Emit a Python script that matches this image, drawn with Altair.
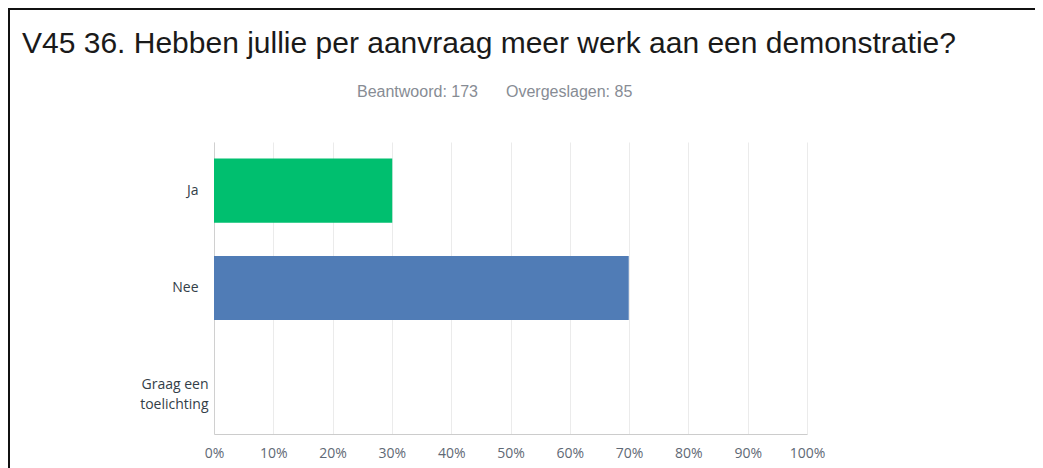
import altair as alt
import pandas as pd

categories = ["Ja", "Nee", "Graag een toelichting"]
percentages = [30.06, 69.94, 0.0]
bar_colors = ["#00bf6f", "#507cb6", "#a0a0a0"]
x_ticks = [0, 10, 20, 30, 40, 50, 60, 70, 80, 90, 100]
title_text = "V45 36. Hebben jullie per aanvraag meer werk aan een demonstratie?"
answered_text = "Beantwoord: 173"
skipped_text = "Overgeslagen: 85"

df = pd.DataFrame({"antwoord": categories, "pct": percentages})

W, H = 593, 292

bars = alt.Chart(df).mark_bar().encode(
    y=alt.Y(
        "antwoord:N",
        sort=categories,
        scale=alt.Scale(paddingInner=0.34, paddingOuter=0.17),
        axis=alt.Axis(
            title=None,
            ticks=False,
            domainColor="#d0d0d0",
            domainWidth=1,
            labelPadding={"condition": {"test": "datum.value == 'Graag een toelichting'", "value": 6}, "value": 16},
            labelFont="Open Sans",
            labelFontSize=14,
            labelColor="#333e48",
            labelLineHeight=20,
            labelExpr="datum.label == 'Graag een toelichting' ? ['Graag een', 'toelichting'] : datum.label",
            grid=False,
        ),
    ),
    x=alt.X(
        "pct:Q",
        scale=alt.Scale(domain=[0, 100], nice=False),
        axis=alt.Axis(
            title=None,
            values=x_ticks,
            labelExpr="datum.value + '%'",
            labelFlush=False,
            ticks=False,
            domainColor="#cccccc",
            grid=True,
            gridColor="#ebebeb",
            labelPadding=12,
            labelFont="Open Sans",
            labelFontSize=14,
            labelColor="#5f6975",
        ),
    ),
    color=alt.Color(
        "antwoord:N",
        scale=alt.Scale(domain=categories, range=bar_colors),
        legend=None,
    ),
)

one = pd.DataFrame({"k": [0]})

title = alt.Chart(pd.DataFrame({"t": [title_text]})).mark_text(
    align="left", baseline="alphabetic", font="Liberation Sans", fontSize=30, color="#1a1a1a"
).encode(text="t:N", x=alt.value(-192), y=alt.value(-89))

sub1 = alt.Chart(pd.DataFrame({"t": [answered_text]})).mark_text(
    align="left", baseline="alphabetic", font="Liberation Sans", fontSize=16, color="#878c94"
).encode(text="t:N", x=alt.value(143), y=alt.value(-45))

sub2 = alt.Chart(pd.DataFrame({"t": [skipped_text]})).mark_text(
    align="left", baseline="alphabetic", font="Liberation Sans", fontSize=16, color="#878c94"
).encode(text="t:N", x=alt.value(292), y=alt.value(-45))

border_top = alt.Chart(one).mark_rule(color="#111111", strokeWidth=2).encode(
    x=alt.value(-206), x2=alt.value(830), y=alt.value(-133)
)
border_left = alt.Chart(one).mark_rule(color="#111111", strokeWidth=2).encode(
    x=alt.value(-205), y=alt.value(-134), y2=alt.value(340)
)

chart = alt.layer(bars, title, sub1, sub2, border_top, border_left).properties(
    width=W,
    height=H,
    autosize=alt.AutoSizeParams(type="none"),
    padding={"left": 206, "top": 134, "right": 228, "bottom": 44},
).configure_view(stroke=None)

chart.save("out.html", embed_options={"renderer": "svg", "actions": False})
